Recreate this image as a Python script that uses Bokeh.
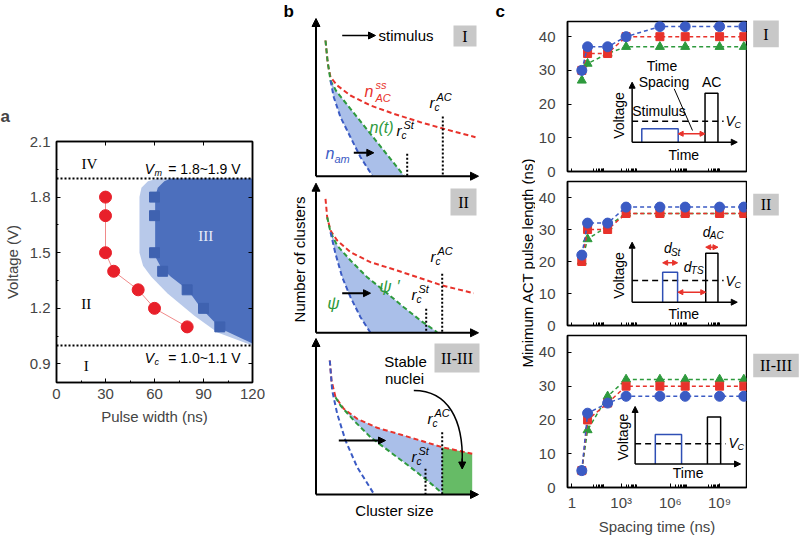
import math
from bokeh.plotting import figure
from bokeh.models import (Range1d, LinearScale, FixedTicker, Arrow, NormalHead,
                          PrintfTickFormatter, LinearAxis)
from bokeh.layouts import row, column
from bokeh.core.properties import value
from bokeh.embed import file_html
from bokeh.resources import INLINE

FONT = "Liberation Sans"
SERIF = "Liberation Serif"

# ---------------- Panel a data ----------------
a_circle_width = [30, 30, 30, 35, 50, 60, 80]
a_circle_voltage = [1.8, 1.7, 1.5, 1.4, 1.3, 1.2, 1.1]
a_square_width = [60, 60, 60, 65, 80, 90, 100]
a_square_voltage = [1.8, 1.7, 1.5, 1.4, 1.3, 1.2, 1.1]
a_light_x = [50.8, 50.8, 52, 56, 62, 120, 120, 98.6, 84.4, 68, 58, 53]
a_light_y = [1.5, 1.8, 1.85, 1.885, 1.9, 1.9, 1.0, 1.07, 1.16, 1.28, 1.37, 1.43]
a_dark_x = [60.4, 60.4, 62, 66, 70, 120, 120, 100.7, 88.5, 80.3, 70, 64, 61]
a_dark_y = [1.5, 1.8, 1.85, 1.885, 1.9, 1.9, 1.01, 1.09, 1.2, 1.3, 1.37, 1.42, 1.47]
a_vm = 1.9
a_vc = 1.0
a_xticks = [0, 30, 60, 90, 120]
a_yticks = [0.9, 1.2, 1.5, 1.8, 2.1]

# ---------------- Panel c data ----------------
c_spacing_ns = [4, 9, 150, 2000, 2.3e5, 8e6, 1e9, 3e10]
c1_blue = [30, 37, 37, 40, 43, 43, 43, 43]
c1_red = [30, 35, 35, 40, 40, 40, 40, 40]
c1_green = [27, 32, 35, 37, 37, 37, 37, 37]
c2_blue = [22, 32, 32, 37, 37, 37, 37, 37]
c2_red = [20, 30, 30, 35, 35, 35, 35, 35]
c2_green = [20, 27, 31, 35, 35, 35, 35, 35]
c3_blue = [5, 22, 25, 27, 27, 27, 27, 27]
c3_red = [5, 20, 25, 30, 30, 30, 30, 30]
c3_green = [5, 17, 27, 32, 32, 32, 32, 32]
c_xticks = [1, 1000, 1000000, 1000000000]
c_xtick_labels = ["1", "10³", "10⁶", "10⁹"]
c_yticks = [0, 10, 20, 30, 40]
c_panel_tags = ["I", "II", "II-III"]

BLUE = "#3b5bc4"
RED = "#e8322b"
GREEN = "#2e9a3d"
INSET_BLUE = "#2f4fb5"
LIGHT = "#aabfe9"


def txt(p, x, y, s, size=15, color="black", style="normal", align="center",
        baseline="middle", font=FONT, angle=0.0, rn=None):
    kw = dict(x_range_name=rn, y_range_name=rn) if rn else {}
    p.text(x=[x], y=[y], text=[s], text_font=value(font), text_font_size=f"{size}px",
           text_color=color, text_font_style=style, text_align=align,
           text_baseline=baseline, angle=angle, **kw)


def arrow(p, x0, y0, x1, y1, color="black", size=8, width=1.5, both=False, rn=None):
    kw = dict(x_range_name=rn, y_range_name=rn) if rn else {}
    head = lambda: NormalHead(size=size, fill_color=color, line_color=color, line_width=1)
    p.add_layout(Arrow(end=head(), start=head() if both else None,
                       x_start=x0, y_start=y0, x_end=x1, y_end=y1,
                       line_color=color, line_width=width, **kw))


def add_px(p, x0, x1, y0, y1):
    p.extra_x_ranges = {"px": Range1d(x0, x1)}
    p.extra_y_ranges = {"px": Range1d(y0, y1)}
    p.extra_x_scales = {"px": LinearScale()}
    p.extra_y_scales = {"px": LinearScale()}


def sketch(width, height, x0, x1):
    p = figure(width=width, height=height, x_range=Range1d(x0, x1), y_range=Range1d(height, 0),
               toolbar_location=None, output_backend="svg", min_border=0,
               x_axis_location=None, y_axis_location=None)
    p.grid.visible = False
    p.outline_line_color = None
    return p


# ================= Panel a =================
pa = figure(width=265, height=537, x_range=Range1d(0, 120), y_range=Range1d(0.8, 2.1),
            toolbar_location=None, output_backend="svg",
            min_border_left=55, min_border_right=13, min_border_top=141, min_border_bottom=155)
add_px(pa, 55, 252, 382, 141)
pa.grid.visible = False
pa.outline_line_color = "black"
pa.outline_line_width = 1.5
pa.title.text = "a"
pa.title.text_font = FONT
pa.title.text_font_size = "17px"
pa.title.text_font_style = "bold"
pa.title.align = "left"
pa.title.offset = -56
pa.title.standoff = 31

pa.xaxis.ticker = FixedTicker(ticks=a_xticks, minor_ticks=[15, 45, 75, 105])
pa.yaxis.ticker = FixedTicker(ticks=a_yticks, minor_ticks=[1.05, 1.35, 1.65, 1.95])
pa.yaxis.formatter = PrintfTickFormatter(format="%.1f")
pa.xaxis.axis_label = "Pulse width (ns)"
pa.yaxis.axis_label = "Voltage (V)"
for ax in (pa.xaxis[0], pa.yaxis[0]):
    ax.axis_label_text_font = FONT
    ax.axis_label_text_font_size = "15px"
    ax.axis_label_text_font_style = "normal"
    ax.major_label_text_font = FONT
    ax.major_label_text_font_size = "15px"
    ax.major_tick_in = 4
    ax.major_tick_out = 0
    ax.minor_tick_in = 2
    ax.minor_tick_out = 0
    ax.axis_line_width = 1.5
    ax.major_label_standoff = 6
    ax.axis_label_standoff = 6
for loc, tk in (("above", a_xticks), ("right", a_yticks)):
    ax = LinearAxis(ticker=FixedTicker(ticks=[], minor_ticks=tk),
                    minor_tick_in=4, minor_tick_out=0, major_tick_in=0, major_tick_out=0,
                    axis_line_width=1.5)
    pa.add_layout(ax, loc)

pa.patch(a_light_x, a_light_y, fill_color="#b8c9ea", line_color=None)
pa.patch(a_dark_x, a_dark_y, fill_color="#4c6fbd", line_color=None)
pa.line([0, 120], [a_vm, a_vm], line_color="black", line_width=2, line_dash="2 2")
pa.line([0, 120], [a_vc, a_vc], line_color="black", line_width=2, line_dash="2 2")
pa.line(a_circle_width, a_circle_voltage, line_color="#f08a8a", line_width=1)
pa.scatter(a_circle_width, a_circle_voltage, marker="circle", size=12,
           fill_color="#e8202a", line_color="#e8202a")
pa.scatter(a_square_width, a_square_voltage, marker="square", size=10,
           fill_color="#3f62b0", line_color="#3f62b0")

txt(pa, 88, 163, "IV", size=15, font=SERIF, rn="px")
txt(pa, 205, 235, "III", size=15, font=SERIF, color="#e8eef9", rn="px")
txt(pa, 85, 303, "II", size=15, font=SERIF, rn="px")
txt(pa, 85, 365, "I", size=15, font=SERIF, rn="px")
txt(pa, 153, 168, "V", size=14, style="italic", align="right", rn="px")
txt(pa, 153.5, 172, "m", size=9, style="italic", align="left", rn="px")
txt(pa, 240, 168, "= 1.8~1.9 V", size=14, align="right", rn="px")
txt(pa, 153, 357, "V", size=14, style="italic", align="right", rn="px")
txt(pa, 153.5, 361, "c", size=9, style="italic", align="left", rn="px")
txt(pa, 240, 357, "= 1.0~1.1 V", size=14, align="right", rn="px")

# ================= Panel b (schematic) =================
pb = sketch(270, 537, 265, 535)

red_I_x = [325, 327.3, 330, 336.7, 350, 370, 393.3, 420, 443.3, 475]
red_I_y = [40, 63.3, 76.7, 85, 95, 105, 113.3, 121.7, 128.3, 136.7]
green_I_x = [325, 327, 330, 336, 343.3, 356.7, 370, 383.3, 396.7, 403.3]
green_I_y = [40, 60, 80, 91, 100, 116.7, 133.3, 150, 166.7, 175]
blue_I_x = [330, 333.3, 340, 350, 360, 371.7]
blue_I_y = [80, 96.7, 116.7, 136.7, 156.7, 175]

red_II_x = [325, 326.7, 330, 336.7, 350, 370, 396.7, 420, 441.7, 473.3]
red_II_y = [198.3, 216.7, 230, 240, 251.7, 261.7, 270, 277.7, 285, 292.7]
green_II_x = [326.7, 330, 336.7, 350, 366.7, 383.3, 403.3, 420, 436.7]
green_II_y = [216.7, 231.7, 245, 260, 276.7, 290, 306.7, 320, 331.7]
blue_II_x = [330, 335, 341.7, 350, 360, 370]
blue_II_y = [231.7, 253.3, 276.7, 296.7, 316.7, 332.3]

red_III_x = [329.3, 331, 335, 343.3, 356.7, 376.7, 403.3, 441.7, 471.7]
red_III_y = [360, 380, 396.7, 408.3, 418.3, 427.3, 435, 446.7, 453.3]
green_III_x = [335, 340, 353.3, 370, 390, 410, 426.7, 441.7]
green_III_y = [396.7, 405, 420, 436.7, 451.7, 466.7, 480, 492.7]
blue_III_x = [329.3, 331.7, 336.7, 345, 356.7, 373.3]
blue_III_y = [360, 390, 413.3, 440, 466.7, 493.3]

pb.patch(green_I_x[2:] + blue_I_x[::-1], green_I_y[2:] + blue_I_y[::-1],
         fill_color=LIGHT, line_color=None)
pb.patch(green_II_x[1:] + [370] + blue_II_x[::-1], green_II_y[1:] + [332.3] + blue_II_y[::-1],
         fill_color=LIGHT, line_color=None)
pb.patch(red_III_x[2:8] + green_III_x[::-1], red_III_y[2:8] + green_III_y[::-1],
         fill_color=LIGHT, line_color=None)
pb.patch([441.7, 471.7, 471.7, 441.7], [446.7, 453.3, 494, 494],
         fill_color="#66bb66", line_color=None)

for xs, ys, c in ((red_I_x, red_I_y, RED), (green_I_x, green_I_y, GREEN), (blue_I_x, blue_I_y, BLUE),
                  (red_II_x, red_II_y, RED), (green_II_x, green_II_y, GREEN), (blue_II_x, blue_II_y, BLUE),
                  (red_III_x, red_III_y, RED), (green_III_x, green_III_y, GREEN),
                  (blue_III_x, blue_III_y, BLUE)):
    pb.line(xs, ys, line_color=c, line_width=2, line_dash="5 3")

for x, y0, y1 in ((406.7, 153.3, 175.7), (442.3, 116, 175.7),
                  (425.7, 308.3, 332.3), (441.7, 273.3, 332.3),
                  (425, 468.3, 494), (441.7, 431.7, 494)):
    pb.line([x, x], [y0, y1], line_color="black", line_width=2, line_dash="2 2")

for yb, ytop in ((175.7, 18), (332.3, 182.7), (494, 338)):
    arrow(pb, 315.5, yb, 315.5, ytop, width=2, size=8)
    arrow(pb, 315.5, yb, 478, yb, width=2, size=8)

arrow(pb, 341.7, 35, 375, 35, size=7, width=1.5)
arrow(pb, 353.3, 152.3, 373.3, 152.3, size=7, width=2)
arrow(pb, 341.7, 292.7, 370, 292.7, size=7, width=2)
arrow(pb, 338.3, 440, 385, 440, size=7, width=2)

pb.bezier(x0=[413.3], y0=[390], x1=[461.7], y1=[462], cx0=[448], cy0=[390],
          cx1=[463], cy1=[420], line_color="black", line_width=1.5)
arrow(pb, 461.7, 458, 461.7, 468.5, size=7, width=1.5)

pb.quad(left=[453, 450, 434], right=[476, 476, 479], top=[25, 188, 343], bottom=[46, 215, 372],
        fill_color="#c8c8c8", line_color=None)
txt(pb, 464.5, 35.5, "I", size=16, font=SERIF)
txt(pb, 463, 201.5, "II", size=16, font=SERIF)
txt(pb, 456.5, 357.5, "II-III", size=16, font=SERIF)

txt(pb, 283, 11, "b", size=17, style="bold", align="left")
txt(pb, 495, 11, "c", size=17, style="bold", align="left")
txt(pb, 378, 35, "stimulus", size=15, align="left")

txt(pb, 364, 91, "n", size=16, style="italic", color=RED, align="left")
txt(pb, 375, 84, "ss", size=11, style="italic", color=RED, align="left")
txt(pb, 375, 97, "AC", size=11, style="italic", color=RED, align="left")
txt(pb, 369, 127, "n(t)", size=16, style="italic", color=GREEN, align="left")
txt(pb, 325, 153, "n", size=16, style="italic", color=BLUE, align="left")
txt(pb, 334, 158, "am", size=11, style="italic", color=BLUE, align="left")


def rlabel(cx, cy, sup):
    txt(pb, cx - 3, cy, "r", size=15, style="italic", align="left")
    txt(pb, cx + 2, cy + 5, "c", size=10, style="italic", align="left")
    txt(pb, cx + 4, cy - 6, sup, size=11, style="italic", align="left")


rlabel(399, 130, "St")
rlabel(432, 102, "AC")
rlabel(414, 294, "St")
rlabel(433, 256, "AC")
rlabel(414, 456, "St")
rlabel(430, 418, "AC")

txt(pb, 333, 303, "ψ", size=17, style="italic", color=GREEN)
txt(pb, 389, 286, "ψ ′", size=17, style="italic", color=GREEN)
txt(pb, 405, 361, "Stable", size=15)
txt(pb, 404, 378, "nuclei", size=15)
txt(pb, 299, 259, "Number of clusters", size=15, angle=math.pi / 2)
txt(pb, 394, 510, "Cluster size", size=15)
txt(pb, 527, 262, "Minimum ACT pulse length (ns)", size=15, angle=math.pi / 2)


# ================= Panel c =================
def make_c(height, top_b, bottom_b, y_end, px_bottom, px_top, show_x, blue, red, green):
    p = figure(width=212, height=height, x_axis_type="log",
               x_range=Range1d(10 ** -0.27, 10 ** 10.64), y_range=Range1d(0, y_end),
               toolbar_location=None, output_backend="svg",
               min_border_left=31, min_border_right=1, min_border_top=top_b,
               min_border_bottom=bottom_b)
    add_px(p, 566, 746, px_bottom, px_top)
    p.grid.visible = False
    p.outline_line_color = "black"
    p.outline_line_width = 1.5
    minors = [m * 10 ** k for k in (1, 3, 6, 8) for m in range(2, 10)]
    if show_x:
        p.xaxis.ticker = FixedTicker(ticks=c_xticks, minor_ticks=minors)
        p.xaxis.major_label_overrides = {k: v for k, v in zip(c_xticks, c_xtick_labels)}
        p.xaxis.major_label_standoff = 6
        p.xaxis.axis_label = "Spacing time (ns)"
        p.xaxis.axis_label_text_font = FONT
        p.xaxis.axis_label_text_font_size = "15px"
        p.xaxis.axis_label_text_font_style = "normal"
        p.xaxis.axis_label_standoff = 4
    else:
        p.xaxis.ticker = FixedTicker(ticks=[], minor_ticks=minors + c_xticks)
    p.yaxis.ticker = FixedTicker(ticks=c_yticks)
    for ax in (p.xaxis[0], p.yaxis[0]):
        ax.major_label_text_font = FONT
        ax.major_label_text_font_size = "15px"
        ax.major_tick_in = 4
        ax.major_tick_out = 0
        ax.minor_tick_in = 3
        ax.minor_tick_out = 0
        ax.axis_line_width = 1.5
    p.yaxis.major_label_standoff = 12
    for ys, c, mk, sz in ((green, GREEN, "triangle", 9), (red, RED, "square", 8),
                          (blue, BLUE, "circle", 10)):
        p.line(c_spacing_ns, ys, line_color=c, line_width=1.5, line_dash="4 3")
        p.scatter(c_spacing_ns, ys, marker=mk, size=sz, fill_color=c, line_color=c)
    return p


# frames: c1 21..171, c2 181..325, c3 335..492
c1 = make_c(180, 21, 9, 44.5, 171, 21, False, c1_blue, c1_red, c1_green)
c2 = make_c(154, 1, 9, 45, 325, 181, False, c2_blue, c2_red, c2_green)
c3 = make_c(203, 1, 45, 45, 492, 335, True, c3_blue, c3_red, c3_green)


def volt_axes(p, x0, y0, ytop, xend):
    arrow(p, x0, y0, x0, ytop, size=6, width=1.5, rn="px")
    arrow(p, x0, y0, xend, y0, size=6, width=1.5, rn="px")


def rect3(p, l, r, top, bottom, color):
    p.line([l, l, r, r], [bottom, top, top, bottom], line_color=color, line_width=1.5,
           x_range_name="px", y_range_name="px")


def dline(p, x0, x1, y):
    p.line([x0, x1], [y, y], line_color="black", line_width=1.5, line_dash="6 4",
           x_range_name="px", y_range_name="px")


def vc(p, x, y):
    txt(p, x, y, "V", size=14, style="italic", align="left", rn="px")
    txt(p, x + 9, y + 4, "C", size=9, style="italic", align="left", rn="px")


volt_axes(c1, 631, 141.7, 81.7, 736.7)
dline(c1, 631, 723, 120.7)
rect3(c1, 640.7, 677.3, 128.3, 141.7, INSET_BLUE)
rect3(c1, 704.3, 717.3, 92.7, 141.7, "black")
arrow(c1, 677.3, 133.3, 704.3, 133.3, color=RED, size=5, width=1.5, both=True, rn="px")
c1.line([673.3, 691.7], [88.3, 130], line_color="black", line_width=1,
        x_range_name="px", y_range_name="px")
txt(c1, 618, 115, "Voltage", size=14, angle=math.pi / 2, rn="px")
txt(c1, 683, 154, "Time", size=14, rn="px")
txt(c1, 658, 110, "Stimulus", size=14, rn="px")
txt(c1, 661, 65, "Time", size=14, rn="px")
txt(c1, 663, 81.7, "Spacing", size=14, rn="px")
txt(c1, 711, 81.7, "AC", size=14, rn="px")
vc(c1, 725, 120)

volt_axes(c2, 631, 301.7, 241.7, 736.7)
dline(c2, 631, 723, 280)
rect3(c2, 661.7, 676.7, 271.7, 301.7, INSET_BLUE)
rect3(c2, 705, 717.3, 252.7, 301.7, "black")
arrow(c2, 661.7, 262.3, 676.7, 262.3, color=RED, size=5, width=1.5, both=True, rn="px")
arrow(c2, 677, 291.7, 705, 291.7, color=RED, size=5, width=1.5, both=True, rn="px")
arrow(c2, 705, 246.7, 717.3, 246.7, color=RED, size=5, width=1.5, both=True, rn="px")
txt(c2, 618, 275, "Voltage", size=14, angle=math.pi / 2, rn="px")
txt(c2, 683, 313.3, "Time", size=14, rn="px")
for dx, dy, sub in ((663, 247.5, "St"), (683, 266, "TS"), (702, 231, "AC")):
    txt(c2, dx, dy, "d", size=14, style="italic", align="left", rn="px")
    txt(c2, dx + 7, dy + 4, sub, size=10, style="italic", align="left", rn="px")
vc(c2, 725, 280)

volt_axes(c3, 634, 467.7, 408.3, 740)
dline(c3, 634, 725, 446.7)
rect3(c3, 654.3, 680.7, 437.3, 467.7, INSET_BLUE)
rect3(c3, 706.7, 720, 419.3, 467.7, "black")
txt(c3, 621.7, 440, "Voltage", size=14, angle=math.pi / 2, rn="px")
txt(c3, 687.3, 477.3, "Time", size=14, rn="px")
vc(c3, 728, 446)

# ================= panel tags right of c =================
pd = sketch(53, 537, 747, 800)
pd.quad(left=[752.7, 752.7, 752.7], right=[778.3, 778.3, 798.3], top=[20, 193.3, 353.3],
        bottom=[46.7, 215, 376.7], fill_color="#c8c8c8", line_color=None)
for (tx, ty), tag in zip(((765.5, 33.5), (765.5, 204), (775.5, 365)), c_panel_tags):
    txt(pd, tx, ty, tag, size=16, font=SERIF)

layout = row(column(pa), column(pb), column(c1, c2, c3, spacing=0), column(pd), spacing=0)

with open("out.html", "w") as f:
    f.write(file_html(layout, INLINE))
